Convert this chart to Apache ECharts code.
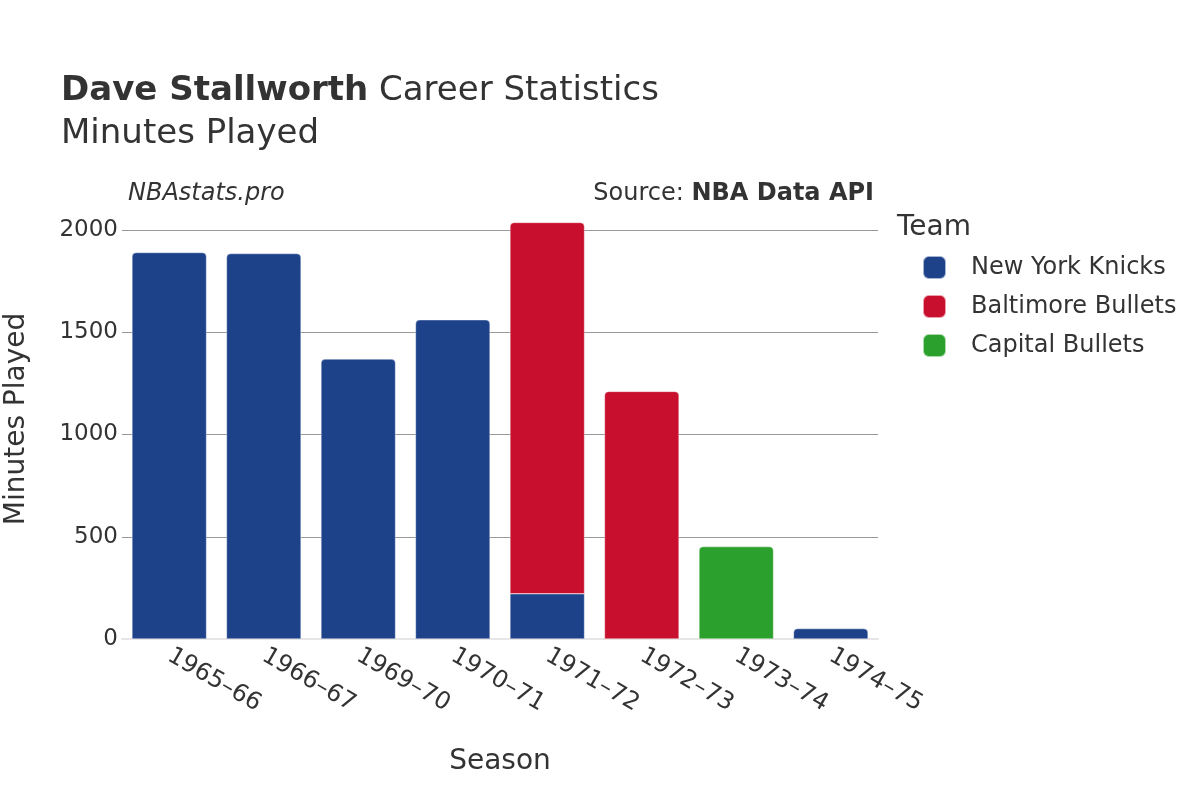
<!DOCTYPE html>
<html><head><meta charset="utf-8">
<script src="https://cdn.jsdelivr.net/npm/echarts@6/dist/echarts.min.js"></script>
<style>html,body{margin:0;padding:0;background:#fff}#c{width:1200px;height:800px}</style>
</head><body><div id="c"></div>
<script>
const seasons = ['1965–66','1966–67','1969–70','1970–71','1971–72','1972–73','1973–74','1974–75'];
const teams = ['New York Knicks','Baltimore Bullets','Capital Bullets'];
const knicks = [1890, 1885, 1369, 1561, 221, null, null, 51];
const baltimore = [null, null, null, null, 1816, 1211, null, null];
const capital = [null, null, null, null, null, null, 452, null];
const yTicks = [0, 500, 1000, 1500, 2000];
const colors = ['#1d428a', '#c8102e', '#2ca02c'];
const F = 'DejaVu Sans';
const TXT = '#333';

const all = [knicks, baltimore, capital];
function topIndex(i) {
  let t = -1;
  all.forEach((s, k) => { if (s[i] != null) t = k; });
  return t;
}
const series = all.map((vals, k) => ({
  name: teams[k], type: 'bar', stack: 'total', clip: false,
  barCategoryGap: '21%',
  itemStyle: { color: colors[k], borderColor: 'rgba(255,255,255,0.6)', borderWidth: 0.6 },
  data: vals.map((v, i) => v == null ? null : ({
    value: v,
    itemStyle: { borderRadius: topIndex(i) === k ? [4, 4, 0, 0] : 0 }
  }))
}));

const chart = echarts.init(document.getElementById('c'), null, { renderer: 'canvas' });
chart.setOption({
  animation: false,
  backgroundColor: '#fff',
  title: [
    { text: '{b|Dave Stallworth}{n| Career Statistics}', left: 56, top: 66,
      textStyle: { lineHeight: 40, rich: {
        b: { fontFamily: F, fontSize: 34, fontWeight: 'bold', color: TXT, lineHeight: 40 },
        n: { fontFamily: F, fontSize: 34, fontWeight: 'normal', color: TXT, lineHeight: 40 } } } },
    { text: 'Minutes Played', left: 56, top: 109,
      textStyle: { fontFamily: F, fontSize: 34, lineHeight: 40, fontWeight: 'normal', color: TXT } },
    { text: 'NBAstats.pro', left: 123, top: 175,
      textStyle: { fontFamily: F, fontSize: 24, lineHeight: 28, fontStyle: 'italic', fontWeight: 'normal', color: TXT } },
    { text: '{n|Source: }{b|NBA Data API}', right: 321, top: 175,
      textStyle: { lineHeight: 28, rich: {
        n: { fontFamily: F, fontSize: 24, fontWeight: 'normal', color: TXT, lineHeight: 28 },
        b: { fontFamily: F, fontSize: 24, fontWeight: 'bold', color: TXT, lineHeight: 28 } } } }
  ],
  legend: {
    orient: 'vertical', left: 917, top: 250,
    icon: 'roundRect', itemWidth: 23, itemHeight: 23, itemGap: 14,
    textStyle: { fontFamily: F, fontSize: 24, color: TXT, padding: [0, 0, 0, 20] },
    data: teams
  },
  graphic: [
    { type: 'text', left: 897, top: 214, style: { text: 'Team', fontFamily: F, fontSize: 28, fill: TXT } },
    { type: 'text', x: 17, y: 419, rotation: Math.PI / 2,
      style: { text: 'Minutes Played', fontFamily: F, fontSize: 28, fill: TXT, align: 'center', verticalAlign: 'middle' } }
  ],
  grid: { left: 122, right: 322, top: 230, bottom: 161, containLabel: false, outerBoundsMode: 'none' },
  xAxis: {
    type: 'category', data: seasons,
    name: 'Season', nameLocation: 'middle', nameGap: 109,
    nameTextStyle: { fontFamily: F, fontSize: 28, color: TXT },
    axisLine: { lineStyle: { color: '#e6e6e6', width: 2 } },
    axisTick: { show: false },
    axisLabel: { rotate: -30, margin: 15, fontFamily: F, fontSize: 24, color: TXT }
  },
  yAxis: {
    type: 'value', min: 0, max: 2000, interval: 500,
    axisLine: { show: false }, axisTick: { show: false },
    axisLabel: { fontFamily: F, fontSize: 23, color: TXT, margin: 4,
      formatter: v => yTicks.includes(v) ? String(v) : '' },
    splitLine: { lineStyle: { color: '#999', width: 1 } }
  },
  series: series
});
</script></body></html>
